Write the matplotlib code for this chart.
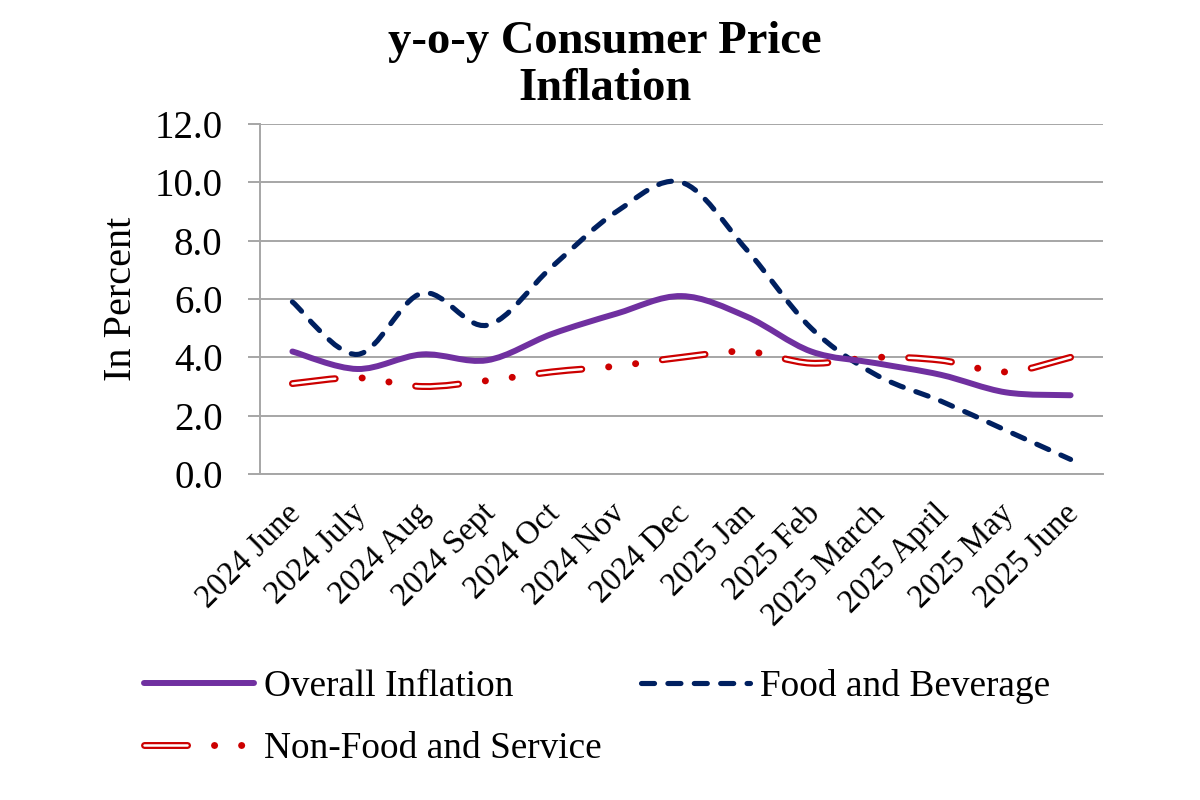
import matplotlib
matplotlib.use("Agg")
import matplotlib.pyplot as plt
from matplotlib.path import Path
from matplotlib.patches import PathPatch
from matplotlib.lines import Line2D
from matplotlib.legend_handler import HandlerTuple
from matplotlib.transforms import ScaledTranslation

plt.rcParams["font.family"] = ["Liberation Serif", "DejaVu Serif"]
plt.rcParams["lines.scale_dashes"] = False

meses = ["2024 June", "2024 July", "2024 Aug", "2024 Sept", "2024 Oct",
         "2024 Nov", "2024 Dec", "2025 Jan", "2025 Feb", "2025 March",
         "2025 April", "2025 May", "2025 June"]
overall = [4.2, 3.6, 4.1, 3.9, 4.8, 5.5, 6.1, 5.4, 4.2, 3.8, 3.4, 2.8, 2.7]
food = [5.9, 4.1, 6.2, 5.1, 7.1, 9.0, 10.0, 7.7, 5.0, 3.4, 2.5, 1.5, 0.5]
nonfood = [3.1, 3.3, 3.0, 3.2, 3.5, 3.7, 4.0, 4.2, 3.8, 4.0, 3.9, 3.5, 4.0]
yticks = [0, 2, 4, 6, 8, 10, 12]

ROXO = "#7030A0"
AZUL = "#002060"
VERMELHO = "#CC0000"
CINZA = "#A6A6A6"

# padrões de traço em pontos
DASH_FOOD = (0, (9.4, 9.6))
DASH_NF = (0, (31, 19.4, 0.1, 19.4, 0.1, 19.4))
DASH_NF_IN = (0, (31, 58.4))


def curva_suave(xs, ys):
    """Curva suavizada (estilo Excel) passando pelos pontos"""
    n = len(xs)
    verts = [(xs[0], ys[0])]
    codes = [Path.MOVETO]
    for i in range(n - 1):
        x0, y0 = (xs[i - 1], ys[i - 1]) if i > 0 else (xs[i], ys[i])
        x3, y3 = (xs[i + 2], ys[i + 2]) if i + 2 < n else (xs[i + 1], ys[i + 1])
        c1 = (xs[i] + (xs[i + 1] - x0) / 6, ys[i] + (ys[i + 1] - y0) / 6)
        c2 = (xs[i + 1] - (x3 - xs[i]) / 6, ys[i + 1] - (y3 - ys[i]) / 6)
        verts += [c1, c2, (xs[i + 1], ys[i + 1])]
        codes += [Path.CURVE4] * 3
    return Path(verts, codes)


def desenhar(ax, ys, cor, lw, ls, z):
    xs = list(range(len(ys)))
    p = PathPatch(curva_suave(xs, ys), fill=False, edgecolor=cor, linewidth=lw,
                  linestyle=ls, capstyle="round", joinstyle="round", zorder=z)
    ax.add_patch(p)


fig = plt.figure(figsize=(12, 8), dpi=100)
ax = fig.add_axes([260 / 1200, 1 - 474 / 800, 843 / 1200, 350 / 800])

desenhar(ax, nonfood, VERMELHO, 5.0, DASH_NF, 3)
desenhar(ax, nonfood, "white", 1.8, DASH_NF_IN, 3.1)
desenhar(ax, food, AZUL, 3.7, DASH_FOOD, 4)
desenhar(ax, overall, ROXO, 4.3, "-", 5)

ax.set_xlim(-0.5, len(meses) - 0.5)
ax.set_ylim(0, 12)
ax.set_yticks(yticks)
ax.set_yticklabels([f"{v:.1f}" for v in yticks], fontsize=28)
ax.set_xticks(range(len(meses)))
ax.set_xticklabels(meses, fontsize=23.5, rotation=45, ha="right",
                   rotation_mode="anchor")
ax.tick_params(axis="x", length=0, pad=8)
ax.tick_params(axis="y", length=9, width=1.4, color=CINZA, pad=18)
# desloca rótulos do eixo x (depois de tick_params, que refaz as transformações)
desloc = ScaledTranslation(-0.07, -0.13, fig.dpi_scale_trans)
for lbl in ax.get_xticklabels():
    lbl.set_transform(lbl.get_transform() + desloc)
ax.grid(True, axis="y", color=CINZA, linewidth=1.4)
ax.set_axisbelow(True)
for lado in ["top", "right"]:
    ax.spines[lado].set_visible(False)
for lado in ["left", "bottom"]:
    ax.spines[lado].set_color(CINZA)
    ax.spines[lado].set_linewidth(1.4)

ax.set_ylabel("In Percent", fontsize=29)
ax.yaxis.set_label_coords(-0.142, 0.5)

fig.text(605 / 1200, 1 - 21 / 800, "y-o-y Consumer Price\nInflation",
         ha="center", va="top", fontsize=33.5, fontweight="bold", linespacing=1.15)

h_overall = Line2D([], [], color=ROXO, lw=4.3, solid_capstyle="round")
h_food = Line2D([], [], color=AZUL, lw=3.7, linestyle=DASH_FOOD,
                dash_capstyle="round")
h_nf1 = Line2D([], [], color=VERMELHO, lw=5.0, linestyle=DASH_NF,
               dash_capstyle="round")
h_nf2 = Line2D([], [], color="white", lw=1.8, linestyle=DASH_NF_IN,
               dash_capstyle="round")

fig.legend([h_overall, (h_nf1, h_nf2), h_food],
           ["Overall Inflation", "Non-Food and Service", "Food and Beverage"],
           handler_map={tuple: HandlerTuple(ndivide=1, pad=0)},
           loc="upper left", bbox_to_anchor=(144 / 1200, 1 - 669 / 800),
           ncol=2, frameon=False, fontsize=26.8, handlelength=2.95,
           handletextpad=0.27, columnspacing=1.05, labelspacing=0.75,
           borderpad=0, borderaxespad=0)

fig.savefig("out.png", dpi=100)
plt.close(fig)
